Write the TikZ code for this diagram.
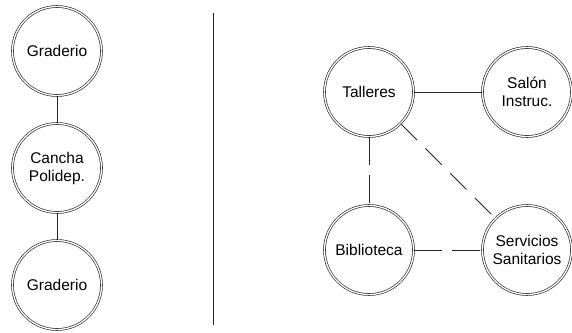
\documentclass[tikz,border=0pt]{standalone}
\usepackage{fontspec}
\setmainfont{Liberation Sans}
\begin{document}
\begin{tikzpicture}[x=1pt,y=-1pt,
  place/.style={circle,draw=black!85,line width=0.65pt,double=white,double distance=1.3pt,
    minimum size=89pt,inner sep=0pt,align=center,
    font=\fontsize{15.5}{18}\selectfont},
  link/.style={draw=black!85,line width=0.9pt},
  dashA/.style={link,dash pattern=on 28pt off 10pt},
  dashB/.style={link,dash pattern=on 23pt off 12pt}]
\useasboundingbox (0,0) rectangle (572,332);
% left column
\node[place] (g1) at (57,51) {Graderio};
\node[place] (c) at (57,168) {Cancha\\Polidep.};
\node[place] (g2) at (57,285) {Graderio};
\draw[link] (g1) -- (c);
\draw[link] (c) -- (g2);
% separator
\coordinate (s1) at (213,13);
\coordinate (s2) at (213,325);
\draw[link] (s1) -- (s2);
% right group
\node[place] (t) at (369,92) {Talleres};
\node[place] (s) at (527,92) {Salón\\Instruc.};
\node[place] (b) at (369,250) {Biblioteca};
\node[place] (ss) at (527,250) {Servicios\\Sanitarios};
\draw[link] (t) -- (s);
\draw[dashA] (t) -- (b);
\draw[dashA] (b) -- (ss);
\draw[dashB] (t) -- (ss);
\end{tikzpicture}
\end{document}
